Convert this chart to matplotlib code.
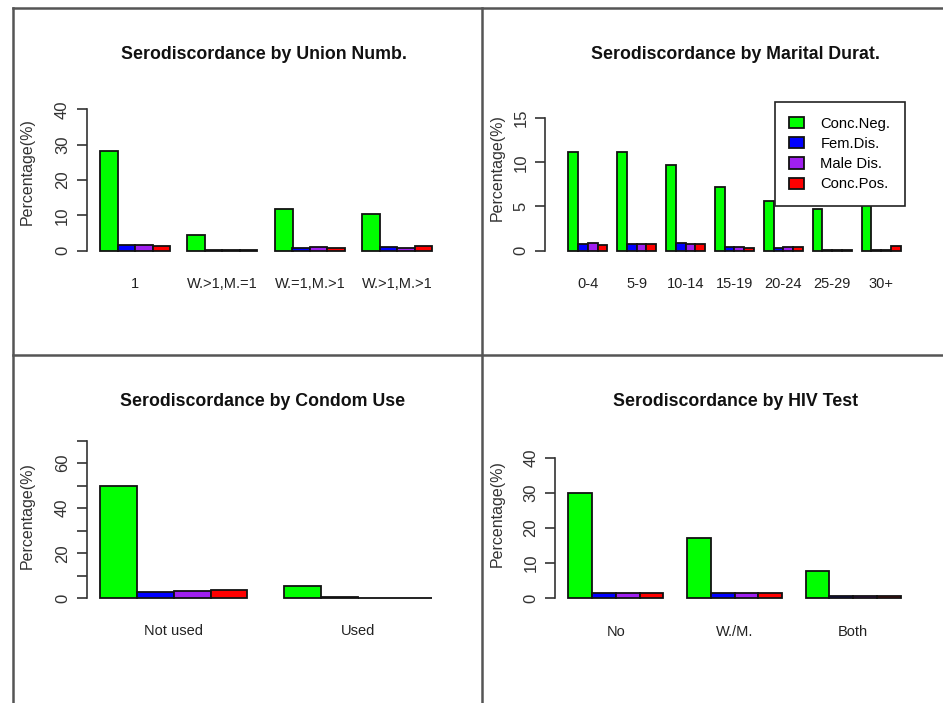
import numpy as np
import matplotlib
matplotlib.use('Agg')
import matplotlib.pyplot as plt
from matplotlib.lines import Line2D

plt.rcParams['font.family'] = ['Liberation Sans', 'DejaVu Sans']

# Data (percentages)
series = ['Conc.Neg.', 'Fem.Dis.', 'Male Dis.', 'Conc.Pos.']
colors = ['#00ff00', '#0000ff', '#a020f0', '#ff0000']

union_cats = ['1', 'W.>1,M.=1', 'W.=1,M.>1', 'W.>1,M.>1']
union_vals = [[28.2, 4.4, 11.8, 10.3],
              [1.6, 0.3, 0.8, 1.1],
              [1.5, 0.3, 1.1, 0.7],
              [1.2, 0.3, 0.8, 1.2]]

dur_cats = ['0-4', '5-9', '10-14', '15-19', '20-24', '25-29', '30+']
dur_vals = [[11.2, 11.2, 9.7, 7.25, 5.6, 4.7, 5.4],
            [0.75, 0.8, 0.9, 0.4, 0.3, 0.1, 0.1],
            [0.9, 0.8, 0.75, 0.4, 0.4, 0.1, 0.1],
            [0.65, 0.8, 0.8, 0.3, 0.4, 0.1, 0.5]]

condom_cats = ['Not used', 'Used']
condom_vals = [[50.0, 5.5],
               [2.9, 0.7],
               [3.4, 0.05],
               [3.7, 0.05]]

hiv_cats = ['No', 'W./M.', 'Both']
hiv_vals = [[29.9, 17.3, 7.8],
            [1.6, 1.6, 0.8],
            [1.6, 1.6, 0.8],
            [1.6, 1.6, 0.8]]

W, H = 943, 703
fig = plt.figure(figsize=(W / 100, H / 100), dpi=100)


def px_axes(x0, y0, x1, y1):
    return fig.add_axes([x0 / W, 1 - y1 / H, (x1 - x0) / W, (y1 - y0) / H])


def panel(rect, cats, vals, title, tcx, tby, ylab_xy, xlim, ylim, yticks,
          ylabels, pad):
    ax = px_axes(*rect)
    ng = len(cats)
    for k in range(4):
        left = 1 + np.arange(ng) * 5 + k
        ax.bar(left, vals[k], width=1, align='edge', color=colors[k],
               edgecolor='#111111', linewidth=1.3, label=series[k])
    ax.set_xlim(*xlim)
    ax.set_ylim(*ylim)
    for s in ['top', 'right', 'bottom']:
        ax.spines[s].set_visible(False)
    ax.spines['left'].set_bounds(yticks[0], yticks[-1])
    ax.spines['left'].set_color('#333333')
    ax.spines['left'].set_linewidth(1.2)
    ax.set_yticks(yticks)
    ax.set_yticklabels(ylabels, rotation=90, va='center')
    ax.tick_params(axis='y', length=7, width=1.2, pad=5, labelsize=12,
                   colors='#333333')
    ax.set_xticks(1 + np.arange(ng) * 5 + 2)
    ax.set_xticklabels(cats)
    ax.tick_params(axis='x', length=0, pad=pad, labelsize=10.5,
                   labelcolor='#222222')
    fig.text(tcx / W, 1 - tby / H, title, ha='center', va='baseline',
             fontsize=12.8, fontweight='bold', color='#111111')
    fig.text(ylab_xy[0] / W, 1 - ylab_xy[1] / H, 'Percentage(%)',
             rotation=90, ha='center', va='center', fontsize=11.5,
             color='#333333')
    return ax


panel((86.7, 103.6, 445.8, 256.4), union_cats, union_vals,
      'Serodiscordance by Union Numb.', 264, 59, (27, 172),
      (0.24, 20.76), (-1.6, 41.6), [0, 10, 20, 30, 40],
      ['0', '10', '20', '30', '40'], 15)

ax2 = panel((545, 103.5, 905, 256.4), dur_cats, dur_vals,
            'Serodiscordance by Marital Durat.', 735, 59, (497, 168),
            (-1.38, 35.44), (-0.64, 16.64), [0, 5, 10, 15],
            ['0', '5', '10', '15'], 15)

leg = ax2.legend(loc='upper right', bbox_to_anchor=(905 / W, 1 - 102 / H),
                 bbox_transform=fig.transFigure, borderaxespad=0,
                 fancybox=False, edgecolor='#222222', framealpha=1,
                 fontsize=10.6, handlelength=1.0, handleheight=0.8,
                 handletextpad=1.1, labelspacing=0.42, borderpad=1.0)
leg.get_frame().set_linewidth(1.2)

panel((86.7, 434.4, 445, 604.6), condom_cats, condom_vals,
      'Serodiscordance by Condom Use', 263, 406, (27, 516),
      (0.64, 10.36), (-2.8, 72.8), [0, 10, 20, 30, 40, 50, 60, 70],
      ['0', '', '20', '', '40', '', '60', ''], 14)

panel((555, 452, 914, 604), hiv_cats, hiv_vals,
      'Serodiscordance by HIV Test', 736, 406, (497, 514),
      (0.44, 15.56), (-1.6, 41.6), [0, 10, 20, 30, 40],
      ['0', '10', '20', '30', '40'], 15)

# frame lines of the composite screenshot
frame = '#555555'
for (xs, ys) in [((13, 13), (8, 703)), ((13, 943), (8, 8)),
                 ((482, 482), (8, 703)), ((13, 943), (355, 355))]:
    fig.add_artist(Line2D([x / W for x in xs], [1 - y / H for y in ys],
                          transform=fig.transFigure, color=frame,
                          linewidth=1.8))

plt.savefig('out.png', dpi=100)
plt.close(fig)
